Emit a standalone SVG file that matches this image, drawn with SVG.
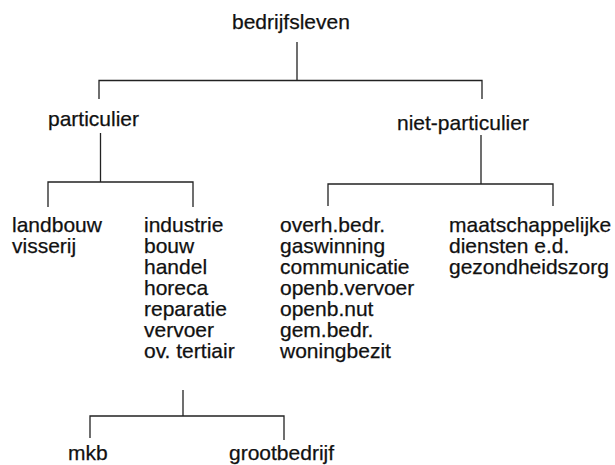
<svg xmlns="http://www.w3.org/2000/svg" width="615" height="465" viewBox="0 0 615 465">
<style>
text{font-family:"Liberation Sans",Arial,sans-serif;font-size:21px;fill:#111;stroke:#111;stroke-width:0.25}
.c path{fill:none;stroke:#222;stroke-width:1.3}
</style>
<rect width="615" height="465" fill="#fff"/>
<g class="c" id="connectors">
<path d="M297,42V80.5M99,99V80.5H482V99"/>
<path d="M100.5,133V182M48,207V182H193V207"/>
<path d="M481,135V184M328,206V184H553V206"/>
<path d="M183,390V416M90,438V416H284V440"/>
</g>
<g id="n-bedrijfsleven"><text x="232" y="29">bedrijfsleven</text></g>
<g id="n-particulier"><text x="48" y="126">particulier</text></g>
<g id="n-niet-particulier"><text x="397" y="130">niet-particulier</text></g>
<g id="n-landbouw"><text x="12" y="232">landbouw</text><text x="12" y="253">visserij</text></g>
<g id="n-industrie"><text x="144" y="232">industrie</text><text x="144" y="253">bouw</text><text x="144" y="274">handel</text><text x="144" y="295">horeca</text><text x="144" y="316">reparatie</text><text x="144" y="337">vervoer</text><text x="144" y="358">ov. tertiair</text></g>
<g id="n-overheid"><text x="280" y="232">overh.bedr.</text><text x="280" y="253">gaswinning</text><text x="280" y="274">communicatie</text><text x="280" y="295">openb.vervoer</text><text x="280" y="316">openb.nut</text><text x="280" y="337">gem.bedr.</text><text x="280" y="358">woningbezit</text></g>
<g id="n-maatschappelijk"><text x="449" y="232">maatschappelijke</text><text x="449" y="253">diensten e.d.</text><text x="449" y="274">gezondheidszorg</text></g>
<g id="n-mkb"><text x="68" y="460">mkb</text></g>
<g id="n-grootbedrijf"><text x="229" y="460">grootbedrijf</text></g>
</svg>
